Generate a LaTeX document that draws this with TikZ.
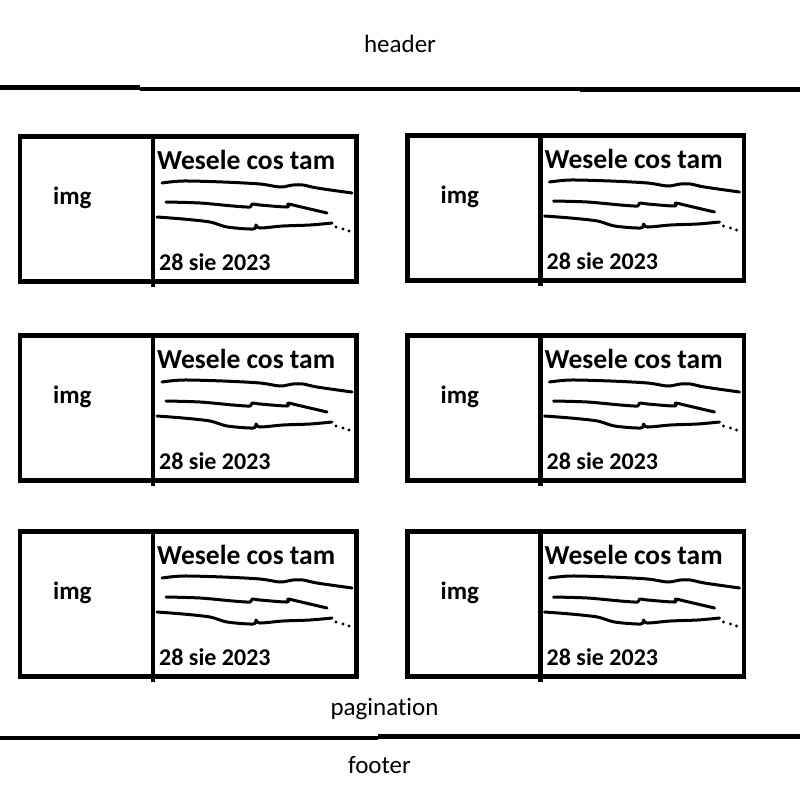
\documentclass[tikz,border=0pt]{standalone}
\usepackage{fontspec}
\setmainfont{Carlito}[Ligatures=CommonOff]
\begin{document}
\begin{tikzpicture}[x=1pt,y=-1pt,
  frame/.style={line width=4.8pt},
  scrib/.style={line width=3pt,line cap=round,line join=round},
  bar/.style={line width=4.6pt},
  ttl/.style={anchor=base west,inner sep=0pt,font=\bfseries\fontsize{27.5}{30}\selectfont},
  imgt/.style={anchor=base west,inner sep=0pt,font=\bfseries\fontsize{25}{28}\selectfont},
  datet/.style={anchor=base west,inner sep=0pt,font=\bfseries\fontsize{24}{28}\selectfont},
  plain/.style={anchor=base,inner sep=0pt,font=\fontsize{25}{28}\selectfont},
  card/.pic={
    \draw[frame] (0,0) rectangle (336.5,145);
    \draw[frame] (133,0) -- (133,150);
    \node[imgt] (-img) at (33,68) {img};
    \node[ttl] (-title) at (137,32.8) {Wesele cos tam};
    \node[datet] (-date) at (139,134.2) {28 sie 2023};
    \draw[scrib] plot[smooth,tension=0.5] coordinates {(142,46.5) (163,44.5) (203,45.5) (240,47.5) (260,50.5) (273,48.5) (283,48.5) (297,51.5) (332,56.5)};
    \draw[scrib] plot[smooth,tension=0.5] coordinates {(146,65.5) (180,66.5) (213,69.5) (230,70.5) (232,67.5) (240,68.5) (267,70.5) (268,67.5) (277,69.5) (307,76.5)};
    \draw[scrib] plot[smooth,tension=0.5] coordinates {(137,80.5) (163,82.5) (190,85.5) (207,90.5) (233,92.5) (236,88.5) (240,91.5) (263,89.5) (290,88.5) (312,86.5)};
    \fill (316,90.5) circle (1.7);
    \fill (323,92.5) circle (1.7);
    \fill (329,94.5) circle (1.7);
  }]
\useasboundingbox (0,0) rectangle (800,798);
\node[plain] (header) at (400,52) {header};
\coordinate (hl0) at (0,87.5);
\coordinate (hl1) at (140,87.5);
\coordinate (hl2) at (140,89);
\coordinate (hl3) at (580,89);
\coordinate (hl4) at (580,89.7);
\coordinate (hl5) at (800,89.7);
\draw[bar] (hl0) -- (hl1);
\draw[bar] (hl2) -- (hl3);
\draw[bar] (hl4) -- (hl5);
\pic (c1) at (20,136.5) {card};
\pic (c2) at (407.5,135.5) {card};
\pic (c3) at (20,335.5) {card};
\pic (c4) at (407.5,335.5) {card};
\pic (c5) at (20,531.5) {card};
\pic (c6) at (407.5,531.5) {card};
\node[plain] (pagination) at (384.5,715) {pagination};
\coordinate (fl0) at (0,738);
\coordinate (fl1) at (378,738);
\coordinate (fl2) at (378,736.7);
\coordinate (fl3) at (800,736.7);
\draw[bar] (fl0) -- (fl1);
\draw[bar] (fl2) -- (fl3);
\node[plain] (footer) at (379.5,773) {footer};
\end{tikzpicture}
\end{document}
